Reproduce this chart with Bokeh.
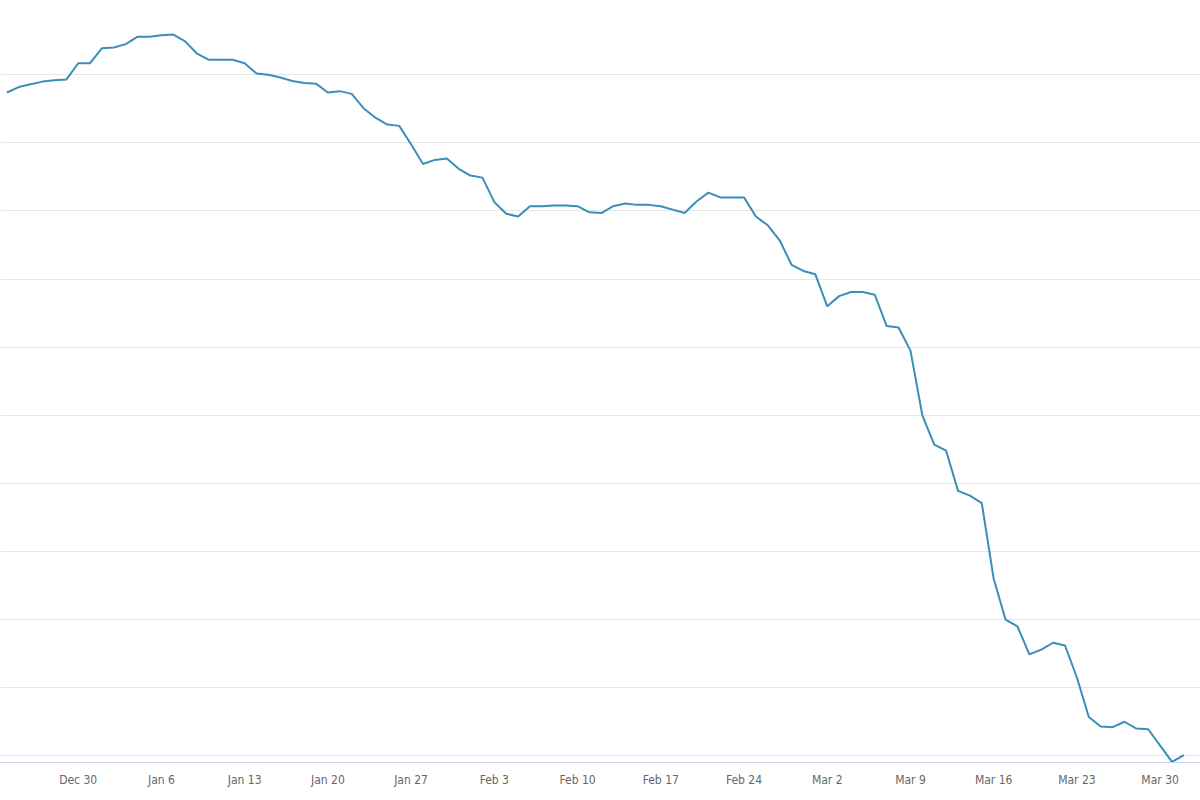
from bokeh.plotting import figure
from bokeh.models import Range1d, FixedTicker
from bokeh.embed import file_html
from bokeh.resources import INLINE
import pandas as pd

# datos diarios (indice), del 24 dic 2019 al 1 abr 2020
values = [107.4, 108.2, 108.6, 109.0, 109.2, 109.3, 111.7, 111.7, 113.9, 114.0,
          114.5, 115.6, 115.6, 115.8, 115.9, 114.9, 113.1, 112.2, 112.2, 112.2,
          111.7, 110.2, 110.0, 109.6, 109.1, 108.8, 108.7, 107.4, 107.6, 107.2,
          105.1, 103.7, 102.7, 102.5, 99.8, 96.9, 97.5, 97.7, 96.2, 95.2,
          94.9, 91.3, 89.6, 89.2, 90.7, 90.7, 90.8, 90.8, 90.7, 89.8,
          89.7, 90.7, 91.1, 90.9, 90.9, 90.7, 90.2, 89.7, 91.4, 92.7,
          92.0, 92.0, 92.0, 89.2, 87.9, 85.7, 82.1, 81.2, 80.7, 76.0,
          77.5, 78.1, 78.1, 77.7, 73.1, 72.9, 69.5, 60.0, 55.7, 54.8,
          48.9, 48.2, 47.1, 36.0, 30.0, 29.0, 24.9, 25.6, 26.6, 26.2,
          21.5, 15.7, 14.3, 14.2, 15.0, 14.0, 13.9, 11.5, 9.1, 10.1]
dates = pd.date_range("2019-12-24", periods=len(values), freq="D")

tick_dates = ["2019-12-30", "2020-01-06", "2020-01-13", "2020-01-20", "2020-01-27",
              "2020-02-03", "2020-02-10", "2020-02-17", "2020-02-24", "2020-03-02",
              "2020-03-09", "2020-03-16", "2020-03-23", "2020-03-30"]
tick_labels = ["Dec 30", "Jan 6", "Jan 13", "Jan 20", "Jan 27", "Feb 3", "Feb 10",
               "Feb 17", "Feb 24", "Mar 2", "Mar 9", "Mar 16", "Mar 23", "Mar 30"]
grid_values = [10, 20, 30, 40, 50, 60, 70, 80, 90, 100, 110]

DAY = 86400000
t0 = pd.Timestamp("2019-12-30").value // 10**6
x_start = t0 - 6.535 * DAY
x_end = x_start + 100.93 * DAY

p = figure(x_axis_type="datetime", frame_width=1200, frame_height=762,
           x_range=Range1d(x_start, x_end), y_range=Range1d(9.016, 120.91),
           output_backend="svg", toolbar_location=None,
           min_border_left=0, min_border_right=0, min_border_top=0, min_border_bottom=0)

p.line(dates, values, line_color="#3a8fb8", line_width=2)

tick_ms = [pd.Timestamp(d).value // 10**6 for d in tick_dates]
p.xaxis.ticker = FixedTicker(ticks=tick_ms)
p.xaxis.major_label_overrides = {t: lab for t, lab in zip(tick_ms, tick_labels)}
p.xaxis.major_tick_out = 0
p.xaxis.major_tick_in = 0
p.xaxis.minor_tick_out = 0
p.xaxis.minor_tick_in = 0
p.xaxis.axis_line_color = "#ccd6eb"
p.xaxis.major_label_standoff = 10
p.xaxis.major_label_text_font = "'DejaVu Sans Condensed', 'Open Sans', sans-serif"
p.xaxis.major_label_text_font_size = "12px"
p.xaxis.major_label_text_color = "#666666"

p.yaxis.visible = False
p.yaxis.ticker = FixedTicker(ticks=grid_values)
p.ygrid.ticker = FixedTicker(ticks=grid_values)
p.ygrid.grid_line_color = "#e6e6e6"
p.xgrid.visible = False
p.outline_line_color = None

open("out.html", "w").write(file_html(p, INLINE))
